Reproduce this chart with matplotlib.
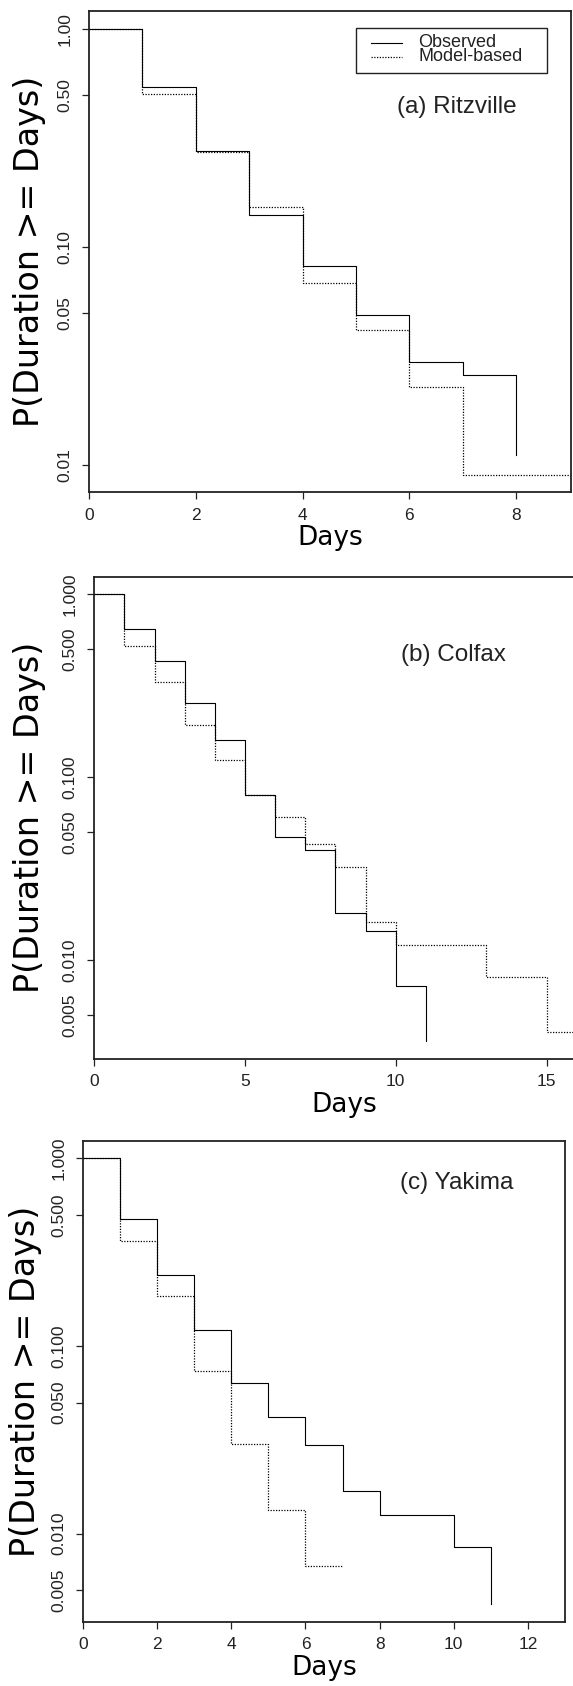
import matplotlib
matplotlib.use("Agg")
import matplotlib.pyplot as plt
from matplotlib import font_manager
from matplotlib.ticker import NullLocator, FixedLocator, FixedFormatter
from matplotlib.patches import Rectangle

# survival curves P(Duration >= Days)
ritz_obs_days = [0, 1, 2, 3, 4, 5, 6, 7, 8]
ritz_obs = [1.0, 0.54, 0.277, 0.140, 0.082, 0.0488, 0.0297, 0.026, 0.0111]
ritz_mod_days = [0, 1, 2, 3, 4, 5, 6, 7, 8, 9, 10]
ritz_mod = [1.0, 0.505, 0.272, 0.152, 0.0687, 0.0416, 0.0227, 0.0090, 0.0090, 0.0090, 0.0090]

colf_obs_days = [0, 1, 2, 3, 4, 5, 6, 7, 8, 9, 10, 11]
colf_obs = [1.0, 0.644, 0.434, 0.254, 0.159, 0.080, 0.0472, 0.0399, 0.0182, 0.0145, 0.00724, 0.00362]
colf_mod_days = [0, 1, 2, 3, 4, 5, 6, 7, 8, 9, 10, 11, 12, 13, 14, 15, 16, 17]
colf_mod = [1.0, 0.524, 0.330, 0.192, 0.125, 0.0797, 0.061, 0.043, 0.0325, 0.0162,
            0.0121, 0.0121, 0.0121, 0.00807, 0.00807, 0.00404, 0.00404, 0.00404]

yak_obs_days = [0, 1, 2, 3, 4, 5, 6, 7, 8, 9, 10, 11]
yak_obs = [1.0, 0.473, 0.239, 0.122, 0.0633, 0.042, 0.0296, 0.0168, 0.0126, 0.0126, 0.00846, 0.0042]
yak_mod_days = [0, 1, 2, 3, 4, 5, 6, 7]
yak_mod = [1.0, 0.364, 0.185, 0.0736, 0.030, 0.0134, 0.0067, 0.0067]

ticks_a = [1.0, 0.5, 0.1, 0.05, 0.01]
labels_a = ["1.00", "0.50", "0.10", "0.05", "0.01"]
ticks_bc = [1.0, 0.5, 0.1, 0.05, 0.01, 0.005]
labels_bc = ["1.000", "0.500", "0.100", "0.050", "0.010", "0.005"]


def has_font(name):
    try:
        font_manager.findfont(name, fallback_to_default=False)
        return True
    except Exception:
        return False


TICK_FONT = "Liberation Sans Narrow" if has_font("Liberation Sans Narrow") else "Liberation Sans"
TICK_SIZE = 13 if TICK_FONT == "Liberation Sans Narrow" else 12.5
LABEL_FONT = "DejaVu Sans"
TEXT_FONT = "Liberation Sans"

W, H = 573, 1686
fig = plt.figure(figsize=(W / 100, H / 100), dpi=100)


def make_axes(left, right, top, bottom):
    return fig.add_axes([left / W, 1 - bottom / H, (right - left) / W, (bottom - top) / H])


def style(ax, xmax, ylim, yticks, ylabels, xticks, xlab_y, ylab_x):
    ax.set_yscale("log")
    ax.set_xlim(0, xmax)
    ax.set_ylim(*ylim)
    ax.yaxis.set_major_locator(FixedLocator(yticks))
    ax.yaxis.set_major_formatter(FixedFormatter(ylabels))
    ax.yaxis.set_minor_locator(NullLocator())
    ax.set_xticks(xticks)
    ax.set_xticklabels([str(t) for t in xticks])
    for sp in ax.spines.values():
        sp.set_color("#222222")
        sp.set_linewidth(1.3)
    ax.tick_params(direction="out", length=5, width=0.9, color="#222222")
    ax.tick_params(axis="x", pad=6)
    ax.tick_params(axis="y", pad=7)
    for lab in ax.get_yticklabels():
        lab.set_rotation(90)
        lab.set_va("center")
        lab.set_family(TICK_FONT)
        lab.set_fontsize(TICK_SIZE)
        lab.set_color("#222222")
    for lab in ax.get_xticklabels():
        lab.set_family(TICK_FONT)
        lab.set_fontsize(TICK_SIZE)
        lab.set_color("#222222")
    ax.set_xlabel("Days", family=LABEL_FONT, fontsize=19)
    ax.xaxis.set_label_coords(0.5, xlab_y)
    ax.xaxis.label.set_va("center")
    ax.set_ylabel("P(Duration >= Days)", family=LABEL_FONT, fontsize=24)
    ax.yaxis.set_label_coords(ylab_x, 0.5)
    ax.yaxis.label.set_va("center")


def draw(ax, od, ov, md, mv):
    ax.step(od, ov, where="post", color="black", linewidth=0.8, label="Observed")
    ax.step(md, mv, where="post", color="black", linewidth=0.9,
            linestyle=(0, (1, 1.2)), label="Model-based")


# (a) Ritzville
ax1 = make_axes(88.8, 571.3, 11, 492.3)
draw(ax1, ritz_obs_days, ritz_obs, ritz_mod_days, ritz_mod)
style(ax1, 9.03, (0.0075, 1.209), ticks_a, labels_a, [0, 2, 4, 6, 8],
      -(538 - 492.3) / 481.3, (29 - 88.8) / 482.5)
ax1.text(0.763, 0.80, "(a) Ritzville", transform=ax1.transAxes, ha="center", va="center",
         family=TEXT_FONT, fontsize=17.5, color="#222222")
# legend box drawn by hand to match the tight layout
ax1.add_patch(Rectangle((0.5544, 0.8712), 0.9495 - 0.5544, 0.9647 - 0.8712,
                        transform=ax1.transAxes, facecolor="white", edgecolor="#222222",
                        linewidth=1.0, zorder=5))
ax1.plot([0.5848, 0.6491], [0.934, 0.934], transform=ax1.transAxes, color="black",
         linewidth=0.8, zorder=6)
ax1.plot([0.5848, 0.6491], [0.905, 0.905], transform=ax1.transAxes, color="black",
         linewidth=0.9, linestyle=(0, (1, 1.2)), zorder=6)
ax1.text(0.6833, 0.935, "Observed", transform=ax1.transAxes, ha="left", va="center",
         family=TEXT_FONT, fontsize=13, color="#222222", zorder=6)
ax1.text(0.6833, 0.905, "Model-based", transform=ax1.transAxes, ha="left", va="center",
         family=TEXT_FONT, fontsize=13, color="#222222", zorder=6)

# (b) Colfax
xmax_b = 16.6
ax2 = make_axes(94.3, 94.3 + 30.15 * xmax_b, 576.7, 1059)
draw(ax2, colf_obs_days, colf_obs, colf_mod_days, colf_mod)
style(ax2, xmax_b, (0.00289, 1.248), ticks_bc, labels_bc, [0, 5, 10, 15],
      -(1105 - 1059) / 482.3, (29 - 94.3) / 500.5)
ax2.text(0.717, 0.838, "(b) Colfax", transform=ax2.transAxes, ha="center", va="center",
         family=TEXT_FONT, fontsize=17.5, color="#222222")

# (c) Yakima
ax3 = make_axes(83, 565, 1141, 1621.7)
draw(ax3, yak_obs_days, yak_obs, yak_mod_days, yak_mod)
style(ax3, 13.0, (0.0034, 1.236), ticks_bc, labels_bc, [0, 2, 4, 6, 8, 10, 12],
      -(1668 - 1621.7) / 480.7, (26 - 83) / 482.0)
ax3.text(0.776, 0.913, "(c) Yakima", transform=ax3.transAxes, ha="center", va="center",
         family=TEXT_FONT, fontsize=17.5, color="#222222")

fig.savefig("out.png", dpi=100)
